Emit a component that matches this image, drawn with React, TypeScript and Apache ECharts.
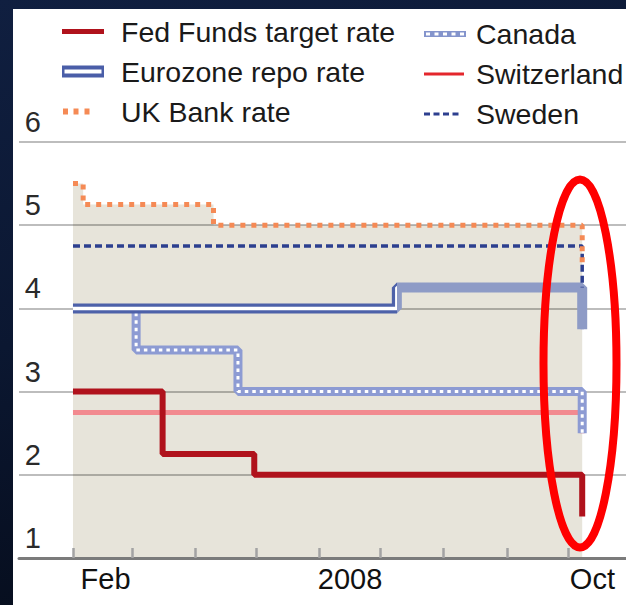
import React, { useEffect, useRef } from "react";
import * as echarts from "echarts";

// ---- data ----
const tickDates = ["2008-02-01", "2008-03-01", "2008-04-01", "2008-05-01", "2008-06-01", "2008-07-01", "2008-08-01", "2008-09-01", "2008-10-01"];
const labelDates = ["2008-02-17", "2008-06-16", "2008-10-13"];
const labelTexts = ["Feb", "2008", "Oct"];
const axisStart = "2008-01-05 12:00";
const axisEnd = "2008-10-29 12:00";

const fedFunds: [string, number][] = [["2008-02-01", 3.0], ["2008-03-16", 2.25], ["2008-04-30", 2.0], ["2008-10-08", 1.5]];
const eurozone: [string, number][] = [["2008-02-01", 4.0], ["2008-07-09", 4.25], ["2008-10-08", 3.75]];
const ukBank: [string, number][] = [["2008-02-01", 5.5], ["2008-02-06", 5.25], ["2008-04-10", 5.0], ["2008-10-08", 4.5]];
const canada: [string, number][] = [["2008-02-01", 4.0], ["2008-03-03", 3.5], ["2008-04-22", 3.0], ["2008-10-08", 2.5]];
const switzerland: [string, number][] = [["2008-02-01", 2.75], ["2008-10-08", 2.5]];
const sweden: [string, number][] = [["2008-02-01", 4.75], ["2008-10-08", 4.25]];

const FONT = "'Liberation Sans', Arial, sans-serif";

function ts(s: string): number {
  const [datePart, timePart] = s.split(" ");
  const [y, m, d] = datePart.split("-").map(Number);
  let hh = 0, mm = 0;
  if (timePart) [hh, mm] = timePart.split(":").map(Number);
  return new Date(y, m - 1, d, hh, mm).getTime();
}
const conv = (arr: [string, number][]) => arr.map(([d, v]) => [ts(d), v]);

// legend icons (path bbox spans full item box)
const mk = (w: number) => `M0 0L0.01 0L0 0.01Z M${w} 12L${w - 0.01} 12L${w} 11.99Z `;
const iconFed = "path://" + mk(54) + "M0 3.5H42V8.5H0Z";
const iconEuro = "path://" + mk(54) + "M0 0H42V12H0Z M2.5 4V8H39.5V4Z";
const iconUK = "path://" + mk(54) + "M1 3H6V9H1Z M11.5 3H16.5V9H11.5Z M22.5 3H27.5V9H22.5Z";
const iconCanada = "path://" + mk(47) + "M0 3H42V9H0Z M2 4.5V7.5H6V4.5Z M10.5 4.5V7.5H14.5V4.5Z M19 4.5V7.5H23V4.5Z M27.5 4.5V7.5H31.5V4.5Z M36 4.5V7.5H40V4.5Z";
const iconSwiss = "path://" + mk(47) + "M0 4.5H40V7.5H0Z";
const iconSweden = "path://" + mk(47) + "M0 4.5H6V7.5H0Z M9.5 4.5H15.5V7.5H9.5Z M19 4.5H25V7.5H19Z M28.5 4.5H34.5V7.5H28.5Z";

function splitGradient(data: [string, number][], splitIndex: number, before: string, after: string) {
  const x0 = ts(data[0][0]);
  const x1 = ts(data[data.length - 1][0]);
  const p = (ts(data[splitIndex][0]) - x0) / (x1 - x0);
  return {
    type: "linear", x: 0, y: 0, x2: 1, y2: 0,
    colorStops: [
      { offset: 0, color: before },
      { offset: p, color: before },
      { offset: p, color: after },
      { offset: 1, color: after },
    ],
  };
}

export default function App() {
  const ref = useRef<HTMLDivElement>(null);
  useEffect(() => {
    if (!ref.current) return;
    const chart = echarts.init(ref.current, undefined, { renderer: "svg" });
    const labelStamps = labelDates.map(ts);
    const base = {
      type: "line",
      step: "end",
      symbol: "none",
      showSymbol: false,
      silent: true,
      emphasis: { disabled: true },
    };
    const legendText = { fontSize: 28.5, lineHeight: 40, fontFamily: FONT, color: "#1a1a1a" };
    chart.setOption({
      animation: false,
      backgroundColor: "transparent",
      grid: { left: 6, right: 0, top: 133, bottom: 47, containLabel: false },
      xAxis: {
        type: "value",
        min: ts(axisStart),
        max: ts(axisEnd),
        z: 1,
        axisLine: { show: true, lineStyle: { color: "#7b7b7b", width: 3 } },
        axisTick: {
          show: true,
          inside: true,
          length: 10,
          customValues: tickDates.map(ts),
          lineStyle: { color: "#a3a3a3", width: 2.5 },
        },
        axisLabel: {
          customValues: labelStamps,
          formatter: (v: number) => {
            let best = -1, bd = Infinity;
            labelStamps.forEach((s, i) => {
              const dd = Math.abs(s - v);
              if (dd < bd) { bd = dd; best = i; }
            });
            return bd < 86400000 * 2 ? labelTexts[best] : "";
          },
          fontSize: 29,
          fontFamily: FONT,
          color: "#111",
          margin: 6,
          hideOverlap: false,
        },
        splitLine: { show: false },
      },
      yAxis: {
        type: "value",
        min: 1,
        max: 6,
        interval: 1,
        z: 1,
        axisLine: { show: false },
        axisTick: { show: false },
        splitLine: { show: true, lineStyle: { color: "rgba(0,0,0,0.26)", width: 2 } },
        axisLabel: {
          inside: true,
          align: "right",
          margin: 22,
          verticalAlign: "bottom",
          fontSize: 29,
          lineHeight: 40,
          fontFamily: FONT,
          color: "#2a2a2a",
        },
      },
      legend: [
        {
          orient: "vertical", left: 49, top: 2.5, padding: 0, itemGap: 0,
          itemWidth: 54, itemHeight: 12, selectedMode: false,
          textStyle: legendText,
          data: [
            { name: "Fed Funds target rate", icon: iconFed, itemStyle: { color: "#b0121c", borderWidth: 0 } },
            { name: "Eurozone repo rate", icon: iconEuro, itemStyle: { color: "#4a5ea8", borderWidth: 0 } },
            { name: "UK Bank rate", icon: iconUK, itemStyle: { color: "#f58a55", borderWidth: 0 } },
          ],
        },
        {
          orient: "vertical", left: 411, top: 5, padding: 0, itemGap: 0,
          itemWidth: 47, itemHeight: 12, selectedMode: false,
          textStyle: legendText,
          data: [
            { name: "Canada", icon: iconCanada, itemStyle: { color: "#8494cc", borderWidth: 0 } },
            { name: "Switzerland", icon: iconSwiss, itemStyle: { color: "#e4262c", borderWidth: 0 } },
            { name: "Sweden", icon: iconSweden, itemStyle: { color: "#2d3f8f", borderWidth: 0 } },
          ],
        },
      ],
      series: [
        {
          ...base, name: "ukArea", z: 0, data: conv(ukBank),
          lineStyle: { width: 0, opacity: 0 },
          areaStyle: { color: "#e7e4da", opacity: 1, origin: "start" },
        },
        { ...base, name: "Switzerland", data: conv(switzerland), itemStyle: { color: "#f28a8f" }, lineStyle: { color: "#f28a8f", width: 5 } },
        { ...base, name: "Canada", data: conv(canada), itemStyle: { color: "#8494cc" }, lineStyle: { color: "#8d9bd3", width: 9 } },
        { ...base, name: "canadaInner", data: conv(canada), lineStyle: { color: "#ffffff", width: 3, type: [3.5, 4] } },
        {
          ...base, name: "Eurozone repo rate", data: conv(eurozone), itemStyle: { color: "#4a5ea8" },
          lineStyle: { color: splitGradient(eurozone, 1, "#4d61a9", "#8e9bc6"), width: 10 },
        },
        {
          ...base, name: "euroInner", data: conv(eurozone),
          lineStyle: { color: splitGradient(eurozone, 1, "#ffffff", "#8e9bc6"), width: 3.5 },
        },
        { ...base, name: "Sweden", data: conv(sweden), itemStyle: { color: "#2d3f8f" }, lineStyle: { color: "#2d3f8f", width: 3.5, type: [7, 4] } },
        { ...base, name: "UK Bank rate", data: conv(ukBank), itemStyle: { color: "#f58a55" }, lineStyle: { color: "#f58a55", width: 5, type: [5, 6] } },
        { ...base, name: "Fed Funds target rate", data: conv(fedFunds), itemStyle: { color: "#b0121c" }, lineStyle: { color: "#b0121c", width: 6 } },
      ],
      graphic: [
        {
          type: "ellipse",
          silent: true,
          z: 100,
          shape: { cx: 567, cy: 354.5, rx: 36.5, ry: 184 },
          style: { fill: "none", stroke: "#ff0000", lineWidth: 8 },
        },
      ],
    });
    return () => chart.dispose();
  }, []);
  return (
    <div
      style={{
        position: "absolute", left: 0, top: 0, width: 626, height: 605, overflow: "hidden",
        background: "linear-gradient(165deg, #101f40 0%, #0b1731 45%, #040914 100%)",
      }}
    >
      <div
        ref={ref}
        style={{ position: "absolute", left: 13, top: 9, width: 613, height: 596, background: "#ffffff" }}
      />
    </div>
  );
}
